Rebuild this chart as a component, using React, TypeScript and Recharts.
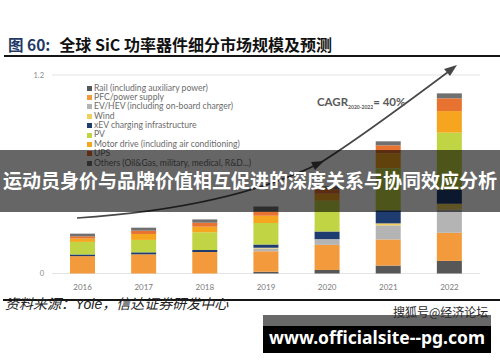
import { BarChart, Bar, XAxis, YAxis, CartesianGrid } from 'recharts';

// SiC power device market by segment (USD bn), Yole
const years = ['2016', '2017', '2018', '2019', '2020', '2021', '2022'];
const rail = [0, 0, 0, 0.01, 0.021, 0.048, 0.076];
const pfc = [0.105, 0.116, 0.13, 0.125, 0.152, 0.158, 0.17];
const evHev = [0, 0, 0, 0.016, 0.035, 0.085, 0.14];
const wind = [0, 0, 0, 0.004, 0, 0.012, 0.036];
const xevCharging = [0.01, 0.012, 0.012, 0.02, 0.046, 0.079, 0.085];
const pv = [0.076, 0.075, 0.107, 0.13, 0.186, 0.255, 0.345];
const motorDrive = [0.02, 0.036, 0.034, 0.044, 0.042, 0.09, 0.13];
const ups = [0.014, 0.02, 0.024, 0.026, 0.027, 0.048, 0.077];
const others = [0.016, 0.018, 0.02, 0.03, 0.018, 0.024, 0.03];
const yTicks = [0, 1.2];

const series = [
  { key: 'rail', name: 'Rail (including auxiliary power)', color: '#575757', values: rail },
  { key: 'pfc', name: 'PFC/power supply', color: '#f39a3d', values: pfc },
  { key: 'evHev', name: 'EV/HEV (including on-board charger)', color: '#b4b4b4', values: evHev },
  { key: 'wind', name: 'Wind', color: '#efd05a', values: wind },
  { key: 'xev', name: 'xEV charging infrastructure', color: '#1f3c70', values: xevCharging },
  { key: 'pv', name: 'PV', color: '#c0d444', values: pv },
  { key: 'motor', name: 'Motor drive (including air conditioning)', color: '#f6a51f', values: motorDrive },
  { key: 'ups', name: 'UPS', color: '#e8722f', values: ups },
  { key: 'others', name: 'Others (Oil&Gas, military, medical, R&D...)', color: '#707070', values: others },
];

const chartData = years.map((year, i) => {
  const row: Record<string, string | number> = { year };
  series.forEach((s) => {
    row[s.key] = s.values[i];
  });
  return row;
});

// legend drawn as plain html so it doesn't steal plot space
const SegmentLegend = () => (
  <div
    style={{
      position: 'absolute',
      left: 86.5,
      top: 83.5,
      fontFamily: 'Lato, sans-serif',
      fontSize: 8.6,
      color: '#6b6b6b',
      lineHeight: '9.4px',
    }}
  >
    {series.map((s) => (
      <div key={s.key} style={{ display: 'flex', alignItems: 'center', whiteSpace: 'nowrap', height: 9.4 }}>
        <span style={{ width: 5, height: 5, background: s.color, marginRight: 2.5, display: 'inline-block' }} />
        <span>{s.name}</span>
      </div>
    ))}
  </div>
);

const cjk = '"Noto Sans CJK SC", "Noto Sans", sans-serif';

export default function App() {
  return (
    <div
      style={{
        position: 'fixed',
        left: 0,
        top: 0,
        width: 500,
        height: 362,
        background: '#fff',
        overflow: 'hidden',
      }}
    >
      <div
        style={{
          position: 'absolute',
          left: 8,
          top: 34,
          fontFamily: cjk,
          fontWeight: 700,
          fontSize: 16,
          lineHeight: '20px',
          whiteSpace: 'nowrap',
          color: '#111',
        }}
      >
        <span style={{ color: '#1f3a66', fontSize: 15.5 }}>图 60:</span>
        <span style={{ marginLeft: 9 }}>全球 SiC 功率器件细分市场规模及预测</span>
      </div>
      <div style={{ position: 'absolute', left: 4, right: 0, top: 55, height: 2, background: '#151515' }} />

      <div style={{ position: 'absolute', left: 0, top: 0 }}>
        <BarChart
          width={500}
          height={362}
          data={chartData}
          margin={{ top: 75, right: 20, bottom: 58.5, left: 0 }}
          barSize={25}
        >
          <CartesianGrid horizontal vertical={false} stroke="#e4e4e4" />
          <XAxis
            dataKey="year"
            height={30}
            axisLine={false}
            tickLine={false}
            tickSize={0}
            tickMargin={11}
            tick={{ fontSize: 8, fill: '#7a7a7a', fontFamily: 'Lato, sans-serif' }}
          />
          <YAxis
            width={52}
            domain={[0, 1.2]}
            ticks={yTicks}
            axisLine={false}
            tickLine={false}
            tickSize={0}
            tickMargin={8}
            tick={{ fontSize: 7.5, fill: '#8a8a8a', fontFamily: 'Lato, sans-serif' }}
          />
          {series.map((s) => (
            <Bar key={s.key} dataKey={s.key} name={s.name} stackId="sic" fill={s.color} isAnimationActive={false} />
          ))}
        </BarChart>
      </div>

      <SegmentLegend />

      {/* CAGR annotation */}
      <svg
        width={500}
        height={362}
        style={{ position: 'absolute', left: 0, top: 0, pointerEvents: 'none' }}
      >
        <path d="M77,218 Q230,208 320,163 Q360,138 452,69" fill="none" stroke="#474747" strokeWidth={1.6} />
        <polygon points="457,65 444,69 450,76" fill="#474747" />
        <polygon points="324,161 311,162 315,170" fill="#474747" />
        <text x={317} y={106} fontFamily="Lato, sans-serif" fontWeight={700} fontSize={11.5} fill="#5a5a5a">
          CAGR
          <tspan fontSize={5} dy={3}>2020-2022</tspan>
          <tspan dy={-3}>= 40%</tspan>
        </text>
      </svg>

      {/* overlay banner */}
      <div
        style={{
          position: 'absolute',
          left: 0,
          top: 150,
          width: 500,
          height: 62,
          background: 'rgba(0,0,0,0.6)',
          color: '#fff',
          fontFamily: cjk,
          fontWeight: 700,
          fontSize: 19,
          lineHeight: '62px',
          textAlign: 'center',
          whiteSpace: 'nowrap',
        }}
      >
        <span style={{ position: 'relative', top: -1 }}>运动员身价与品牌价值相互促进的深度关系与协同效应分析</span>
      </div>

      <div style={{ position: 'absolute', left: 3, right: 0, top: 299, height: 2, background: '#151515' }} />
      <div
        style={{
          position: 'absolute',
          left: 5,
          top: 294,
          fontFamily: cjk,
          fontStyle: 'italic',
          fontSize: 14,
          lineHeight: '18px',
          color: '#222',
          whiteSpace: 'nowrap',
        }}
      >
        资料来源：<span style={{ fontFamily: 'Liberation Sans, Arial, sans-serif' }}>Yole</span>，信达证券研发中心
      </div>

      <div style={{ position: 'absolute', left: 263, top: 315, width: 228, height: 11, background: '#686868' }} />
      <div style={{ position: 'absolute', left: 263, top: 326, width: 228, height: 27, background: '#000' }} />
      <div
        style={{
          position: 'absolute',
          left: 393,
          top: 304,
          fontFamily: cjk,
          fontSize: 12,
          lineHeight: '16px',
          color: '#2a2a2a',
          whiteSpace: 'nowrap',
        }}
      >
        搜狐号@经济论坛
      </div>
      <div
        style={{
          position: 'absolute',
          left: 263,
          top: 326,
          width: 228,
          height: 24,
          fontFamily: '"Noto Sans", sans-serif',
          fontWeight: 700,
          fontSize: 17.5,
          lineHeight: '22px',
          color: '#fff',
          textAlign: 'center',
          whiteSpace: 'nowrap',
        }}
      >
        www.officialsite--pg.com
      </div>
    </div>
  );
}
